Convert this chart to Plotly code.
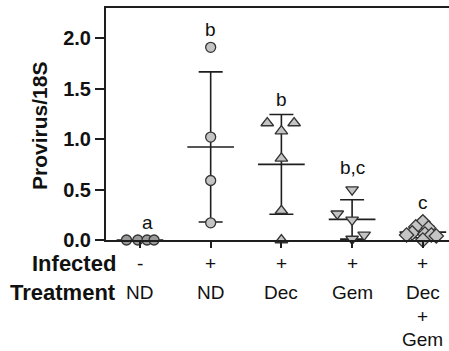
import numpy as np
import plotly.graph_objects as go

# Groups along the x axis
infected = ["-", "+", "+", "+", "+"]
treatment = ["ND", "ND", "Dec", "Gem", "Dec\n+\nGem"]
letters = ["a", "b", "b", "b,c", "c"]

# Provirus/18S values per group
nd_neg = [0.0, 0.0, 0.0, 0.0]
nd_pos = [1.91, 1.02, 0.59, 0.17]
dec = [1.16, 1.16, 1.08, 0.81, 0.29, 0.0]
gem = [0.50, 0.26, 0.20, 0.05, 0.01]
dec_gem = [0.18, 0.13, 0.12, 0.07, 0.06, 0.05, 0.05, 0.04, 0.0]

groups = [nd_neg, nd_pos, dec, gem, dec_gem]

# horizontal scatter of points inside each group (category units)
jitter = [
    [-0.19, -0.03, 0.10, 0.20],
    [0.0, 0.0, 0.0, 0.0],
    [-0.20, 0.18, 0.0, 0.0, 0.0, 0.0],
    [0.0, -0.21, 0.0, 0.17, 0.0],
    [0.0, -0.10, 0.08, -0.15, 0.03, -0.23, 0.12, 0.19, 0.0],
]

symbols = ["circle", "circle", "triangle-up", "triangle-down", "diamond"]
fills = ["#9a9a9a", "#c4c4c4", "#c4c4c4", "#c4c4c4", "#c4c4c4"]
sizes = [10, 10, 11, 11, 11]

# y position of the significance letters and their x shift
letter_y = [0.17, 2.09, 1.39, 0.72, 0.37]
letter_dx = [0.11, 0.0, 0.0, 0.0, 0.0]

FONT = "Liberation Sans, Arial, sans-serif"
LINE = "#1e1e1e"

W, H = 449, 351
L, R, T, B = 106, 0, 8, 111
XR = [-0.48, 4.37]
YR = [0.0, 2.3]


def py(px):
    """Paper y for a pixel row of the page."""
    return (240 - px) / (240 - T)


fig = go.Figure()

# mean line with SD whiskers for each group
for i, vals in enumerate(groups):
    v = np.array(vals)
    m = v.mean()
    sd = v.std(ddof=1)
    fig.add_trace(go.Scatter(
        x=[i], y=[m], mode="markers",
        marker=dict(size=1, color="rgba(0,0,0,0)"),
        error_y=dict(type="data", array=[sd], symmetric=True,
                     width=12, thickness=1.6, color=LINE),
        error_x=dict(type="data", array=[0.33], symmetric=True,
                     width=0, thickness=1.6, color=LINE),
        showlegend=False, hoverinfo="skip", cliponaxis=False,
    ))

# individual points
for i, vals in enumerate(groups):
    fig.add_trace(go.Scatter(
        x=[i + d for d in jitter[i]], y=vals, mode="markers",
        marker=dict(symbol=symbols[i], size=sizes[i], color=fills[i],
                    line=dict(color="#333333", width=1.3)),
        showlegend=False, cliponaxis=False,
    ))

annotations = []
for i in range(len(groups)):
    annotations.append(dict(
        x=i + letter_dx[i], y=letter_y[i], xref="x", yref="y",
        text=letters[i], showarrow=False,
        font=dict(family=FONT, size=19, color="#111"),
    ))
    annotations.append(dict(
        x=i, y=py(263), xref="x", yref="paper",
        text=infected[i], showarrow=False, yanchor="middle",
        font=dict(family=FONT, size=19, color="#111"),
    ))
    for k, line in enumerate(treatment[i].split("\n")):
        annotations.append(dict(
            x=i, y=py(292 + 24 * k), xref="x", yref="paper",
            text=line, showarrow=False, yanchor="middle",
            font=dict(family=FONT, size=19, color="#111"),
        ))

for label, yc in [("Infected", 263), ("Treatment", 292)]:
    annotations.append(dict(
        x=(118 - L) / (W - L - R), y=py(yc),
        xref="paper", yref="paper", xanchor="right", yanchor="middle",
        text=label, showarrow=False,
        font=dict(family=FONT, size=22, color="#111", weight="bold"),
    ))

annotations.append(dict(
    x=(40 - L) / (W - L - R), y=py(126),
    xref="paper", yref="paper", xanchor="center", yanchor="middle",
    text="Provirus/18S", textangle=-90, showarrow=False,
    font=dict(family=FONT, size=21, color="#111", weight="bold"),
))

fig.update_layout(
    width=W, height=H,
    margin=dict(l=L, r=R, t=T, b=B, pad=0),
    plot_bgcolor="white", paper_bgcolor="white",
    annotations=annotations,
    xaxis=dict(
        range=XR, tickvals=list(range(len(groups))), ticktext=[""] * 5,
        ticks="outside", ticklen=6, tickwidth=1.6, tickcolor=LINE,
        showline=True, linewidth=2, linecolor=LINE, mirror=True,
        showgrid=False, zeroline=False, fixedrange=True,
    ),
    yaxis=dict(
        range=YR, tickvals=[0, 0.5, 1.0, 1.5, 2.0], tickformat=".1f",
        ticks="outside", ticklen=9, tickwidth=1.6, tickcolor=LINE,
        tickfont=dict(family=FONT, size=20, color="#111", weight="bold"),
        showline=True, linewidth=2, linecolor=LINE,
        showgrid=False, zeroline=False, fixedrange=True,
    ),
)

fig.write_html("out.html")
